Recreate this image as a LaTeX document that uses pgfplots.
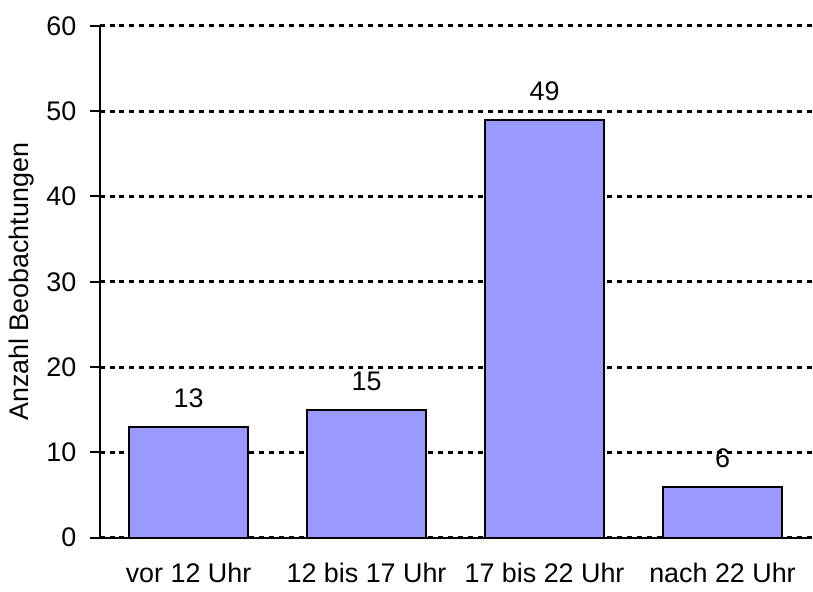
\documentclass[border=0pt]{standalone}
\usepackage{fontspec}
\setmainfont{Liberation Sans}
\usepackage{pgfplots}
\pgfplotsset{compat=1.18}
\definecolor{barblue}{HTML}{9999FF}
\begin{document}
\fontsize{13.5}{16}\selectfont
\begin{tikzpicture}
\begin{axis}[
    scale only axis,
    width=357.5pt, height=257pt,
    ybar, bar width=60pt,
    xmin=-0.5, xmax=3.5, ymin=0, ymax=60,
    xtick=data,
    xticklabels={vor 12 Uhr, 12 bis 17 Uhr, 17 bis 22 Uhr, nach 22 Uhr},
    ytick={0,10,...,60},
    axis x line=bottom, axis y line=left,
    axis line style={line width=1pt, -},
    x tick style={draw=none},
    y tick style={black, line width=1pt},
    tick align=outside, major tick length=5pt,
    xticklabel style={yshift=-3pt},
    yticklabel style={xshift=-2pt},
    ymajorgrids,
    major grid style={black, line width=1.5pt, dash pattern=on 2.5pt off 2.5pt},
    ylabel={Anzahl Beobachtungen},
    ylabel style={yshift=-3pt},
    tick label style={font=\fontsize{13.5}{16}\selectfont},
    label style={font=\fontsize{13.5}{16}\selectfont},
    /pgf/number format/assume math mode=true,
    nodes near coords,
    every node near coord/.append style={font=\fontsize{13.5}{16}\selectfont, inner sep=0pt, yshift=9pt},
]
\addplot[fill=barblue, draw=black, line width=1pt] coordinates {
    (0,13) (1,15) (2,49) (3,6)
};
\end{axis}
\path (0,0) ++(0,270pt) coordinate (top);
\path (0,-25pt) coordinate (bot);
\end{tikzpicture}
\end{document}
